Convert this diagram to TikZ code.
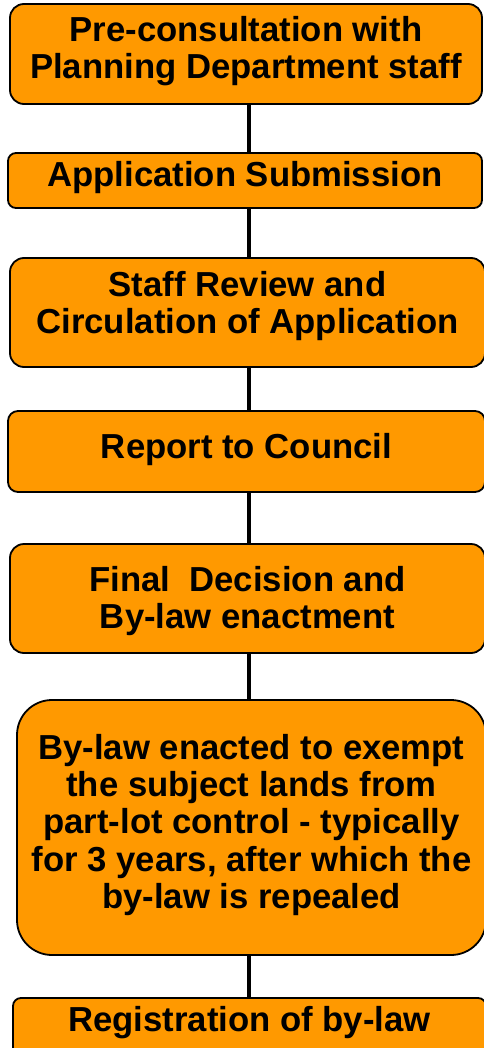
\documentclass[tikz,border=0pt]{standalone}
\usepackage{fontspec}
\setmainfont{Liberation Sans}
\definecolor{boxorange}{RGB}{255,153,0}
\begin{document}
\begin{tikzpicture}[x=1pt,y=-1pt,
  stepbox/.style={draw=black, line width=1.8pt, fill=boxorange, inner sep=0pt},
  steptext/.style={align=center, inner sep=0pt, font=\fontsize{34.7}{36.6}\selectfont\bfseries},
  link/.style={draw=black, line width=3.5pt}]
\useasboundingbox (0,0) rectangle (483,1048);
\coordinate (spine) at (249,0);
% boxes
\node[stepbox, rounded corners=14pt, minimum width=472pt, minimum height=100pt] (n1) at (246,54) {};
\node[stepbox, rounded corners=8pt, minimum width=474pt, minimum height=55pt] (n2) at (245,180.5) {};
\node[stepbox, rounded corners=14pt, minimum width=475pt, minimum height=109pt] (n3) at (247.5,312.5) {};
\node[stepbox, rounded corners=10pt, minimum width=477pt, minimum height=81pt] (n4) at (246.5,451.5) {};
\node[stepbox, rounded corners=14pt, minimum width=475pt, minimum height=109pt] (n5) at (247.5,598.5) {};
\node[stepbox, rounded corners=35pt, minimum width=469pt, minimum height=255pt] (n6) at (251.5,827.5) {};
\node[stepbox, rounded corners=8pt, minimum width=473pt, minimum height=60pt] (n7) at (249.5,1028) {};
% texts
\node[steptext, yshift=2.75pt] (t1) at (n1.center) {Pre-consultation with\\Planning Department staff};
\node[steptext, yshift=2.55pt] (t2) at (n2.center) {Application Submission};
\node[steptext, yshift=6.25pt] (t3) at (n3.center) {Staff Review and\\Circulation of Application};
\node[steptext, yshift=1.95pt] (t4) at (n4.center) {Report to Council};
\node[steptext, yshift=-2.75pt] (t5) at (n5.center) {Final\ \ Decision and\\By-law enactment};
\node[steptext, yshift=2.65pt, font=\fontsize{34.7}{37.3}\selectfont\bfseries] (t6) at (n6.center)
  {By-law enacted to exempt\\the subject lands from\\part-lot control - typically\\for 3 years, after which the\\by-law is repealed};
\node[steptext, yshift=5.05pt] (t7) at (n7.center) {Registration of by-law};
% connectors
\draw[link] (n1.south -| spine) -- (n2.north -| spine);
\draw[link] (n2.south -| spine) -- (n3.north -| spine);
\draw[link] (n3.south -| spine) -- (n4.north -| spine);
\draw[link] (n4.south -| spine) -- (n5.north -| spine);
\draw[link] (n5.south -| spine) -- (n6.north -| spine);
\draw[link] (n6.south -| spine) -- (n7.north -| spine);
\end{tikzpicture}
\end{document}
